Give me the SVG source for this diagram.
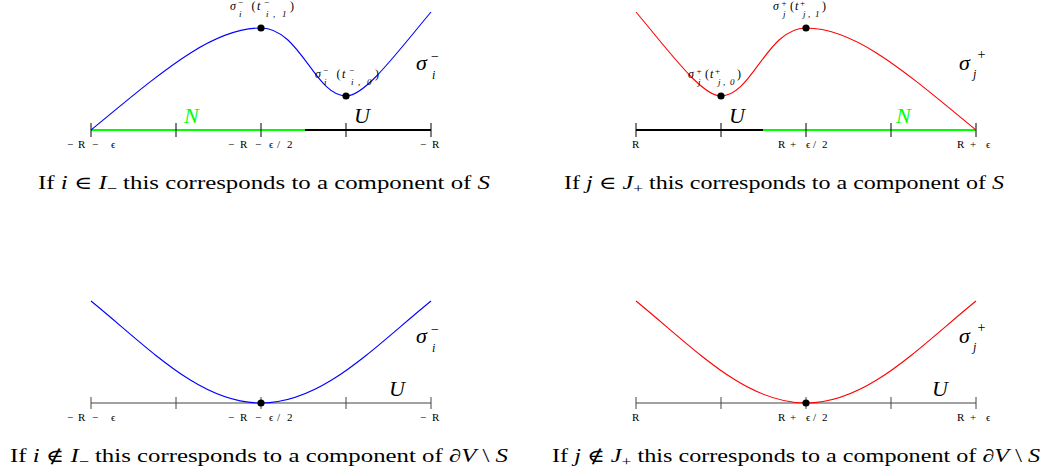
<svg xmlns="http://www.w3.org/2000/svg" width="1064" height="475" viewBox="0 0 1064 475">
<style>
text{font-family:"Liberation Serif","DejaVu Serif",serif;fill:#000}
.it{font-style:italic}
.cap{font-size:18px}
.lab{font-size:22px;font-style:italic}
.sm{font-size:12px}
.sc{font-size:9px}
.tk{font-size:11px}
.axT{stroke-width:2.2;fill:none}
.axB{stroke:#444;stroke-width:1.1;fill:none}
.tick{stroke:#000;stroke-width:1}
.tickB{stroke:#444;stroke-width:1}
.curve{fill:none;stroke-width:1.1}
</style>
<defs>
  <g id="lblMinus1">
    <text class="sm it" x="230" y="10">σ</text><text class="sc" x="238" y="4.5">−</text><text class="sc it" x="239" y="17">i</text>
    <text class="sm" x="251.5" y="10">(</text><text class="sm it" x="257" y="10">t</text><text class="sc" x="264" y="4.5">−</text>
    <text class="sm" x="290" y="10">)</text>
  </g>
  <g id="lblPlus1">
    <text class="sm it" x="773" y="9.5">σ</text><text class="sc" x="781.5" y="6">+</text><text class="sc it" x="783" y="17">j</text>
    <text class="sm" x="790" y="10">(</text><text class="sm it" x="795" y="10">t</text><text class="sc" x="800" y="6">+</text>
    <text class="sm" x="822" y="10">)</text>
  </g>
</defs>
<rect width="1064" height="475" fill="#fff"/>

<!-- Top-left panel -->
<g id="panel-top-left">
  <line class="axT" x1="91" y1="130" x2="305" y2="130" stroke="#00ff00"/>
  <line class="axT" x1="305" y1="130" x2="431" y2="130" stroke="#000"/>
  <g class="tick">
    <line x1="91" y1="123" x2="91" y2="137"/><line x1="176" y1="123" x2="176" y2="137"/>
    <line x1="261" y1="123" x2="261" y2="137"/><line x1="346" y1="123" x2="346" y2="137"/>
    <line x1="431" y1="123" x2="431" y2="137"/>
  </g>
  <path class="curve" stroke="#0000ff" d="M91,130 C161,72.6 211,28 261,28 C300,28 315,96 346,96 C365,96 395,55 431,12"/>
  <circle cx="261" cy="28" r="3.6"/><circle cx="346" cy="96" r="3.6"/>
  <text class="tk" x="67 78 92 111" y="148">−R−ϵ</text>
  <text class="tk" x="228 240 255 269 277 287" y="148">−R−ϵ/2</text>
  <text class="tk" x="420 432" y="148">−R</text>
  <text class="lab" x="184" y="123" style="fill:#00ff00">N</text>
  <text class="lab" x="354" y="123">U</text>
  <text class="lab" x="416" y="70">σ</text><text font-size="14" x="431" y="60.5">−</text><text class="it" font-size="12" x="432" y="79">i</text>
  <use href="#lblMinus1"/><text class="sc it" x="266 273 282" y="17">i,1</text>
  <use href="#lblMinus1" transform="translate(85,68)"/><text class="sc it" x="351 358 367" y="85">i,0</text>
  <text class="cap" x="38" y="189" textLength="452" lengthAdjust="spacingAndGlyphs">If <tspan class="it">i</tspan> ∈ <tspan class="it">I</tspan><tspan font-size="13" dy="4">−</tspan><tspan dy="-4"> this corresponds to a component of </tspan><tspan class="it">S</tspan></text>
</g>

<!-- Top-right panel -->
<g id="panel-top-right">
  <line class="axT" x1="636" y1="130" x2="763" y2="130" stroke="#000"/>
  <line class="axT" x1="763" y1="130" x2="976" y2="130" stroke="#00ff00"/>
  <g class="tick">
    <line x1="636" y1="123" x2="636" y2="137"/><line x1="721" y1="123" x2="721" y2="137"/>
    <line x1="806" y1="123" x2="806" y2="137"/><line x1="891" y1="123" x2="891" y2="137"/>
    <line x1="976" y1="123" x2="976" y2="137"/>
  </g>
  <path class="curve" stroke="#ff0000" d="M976,130 C906,72.6 856,28 806,28 C767,28 752,96 721,96 C702,96 672,55 636,12"/>
  <circle cx="806" cy="28" r="3.6"/><circle cx="721" cy="96" r="3.6"/>
  <text class="tk" x="632" y="148">R</text>
  <text class="tk" x="778 790 806 813 822" y="148">R+ϵ/2</text>
  <text class="tk" x="957 970 986" y="148">R+ϵ</text>
  <text class="lab" x="896" y="123" style="fill:#00ff00">N</text>
  <text class="lab" x="729" y="123">U</text>
  <text class="lab" x="959" y="70">σ</text><text font-size="14" x="977.5" y="58.5">+</text><text class="it" font-size="12" x="973" y="78">j</text>
  <use href="#lblPlus1"/><text class="sc it" x="803 808 815" y="17">j,1</text>
  <use href="#lblPlus1" transform="translate(-85,68)"/><text class="sc it" x="718 723 730" y="85">j,0</text>
  <text class="cap" x="564" y="189" textLength="440" lengthAdjust="spacingAndGlyphs">If <tspan class="it">j</tspan> ∈ <tspan class="it">J</tspan><tspan font-size="13" dy="4">+</tspan><tspan dy="-4"> this corresponds to a component of </tspan><tspan class="it">S</tspan></text>
</g>

<!-- Bottom-left panel -->
<g id="panel-bottom-left">
  <line class="axB" x1="91" y1="403" x2="431" y2="403"/>
  <g class="tickB">
    <line x1="91" y1="397" x2="91" y2="409"/><line x1="176" y1="397" x2="176" y2="409"/>
    <line x1="261" y1="397" x2="261" y2="409"/><line x1="346" y1="397" x2="346" y2="409"/>
    <line x1="431" y1="397" x2="431" y2="409"/>
  </g>
  <path class="curve" stroke="#0000ff" d="M91,301 C150,349 200,403 261,403 C322,403 372,349 431,301"/>
  <circle cx="261" cy="403" r="3.6"/>
  <text class="tk" x="67 78 92 111" y="421">−R−ϵ</text>
  <text class="tk" x="228 240 255 269 277 287" y="421">−R−ϵ/2</text>
  <text class="tk" x="420 432" y="421">−R</text>
  <text class="lab" x="389" y="396">U</text>
  <text class="lab" x="416" y="343">σ</text><text font-size="14" x="431" y="333.5">−</text><text class="it" font-size="12" x="432" y="352">i</text>
  <text class="cap" x="10" y="462" textLength="498" lengthAdjust="spacingAndGlyphs">If <tspan class="it">i</tspan> ∉ <tspan class="it">I</tspan><tspan font-size="13" dy="4">−</tspan><tspan dy="-4"> this corresponds to a component of ∂</tspan><tspan class="it">V</tspan> \ <tspan class="it">S</tspan></text>
</g>

<!-- Bottom-right panel -->
<g id="panel-bottom-right">
  <line class="axB" x1="636" y1="403" x2="976" y2="403"/>
  <g class="tickB">
    <line x1="636" y1="397" x2="636" y2="409"/><line x1="721" y1="397" x2="721" y2="409"/>
    <line x1="806" y1="397" x2="806" y2="409"/><line x1="891" y1="397" x2="891" y2="409"/>
    <line x1="976" y1="397" x2="976" y2="409"/>
  </g>
  <path class="curve" stroke="#ff0000" d="M636,301 C695,349 745,403 806,403 C867,403 917,349 976,301"/>
  <circle cx="806" cy="403" r="3.6"/>
  <text class="tk" x="632" y="421">R</text>
  <text class="tk" x="778 790 806 813 822" y="421">R+ϵ/2</text>
  <text class="tk" x="957 970 986" y="421">R+ϵ</text>
  <text class="lab" x="932" y="396">U</text>
  <text class="lab" x="959" y="343">σ</text><text font-size="14" x="977.5" y="331.5">+</text><text class="it" font-size="12" x="973" y="351">j</text>
  <text class="cap" x="552" y="462" textLength="488" lengthAdjust="spacingAndGlyphs">If <tspan class="it">j</tspan> ∉ <tspan class="it">J</tspan><tspan font-size="13" dy="4">+</tspan><tspan dy="-4"> this corresponds to a component of ∂</tspan><tspan class="it">V</tspan> \ <tspan class="it">S</tspan></text>
</g>
</svg>
